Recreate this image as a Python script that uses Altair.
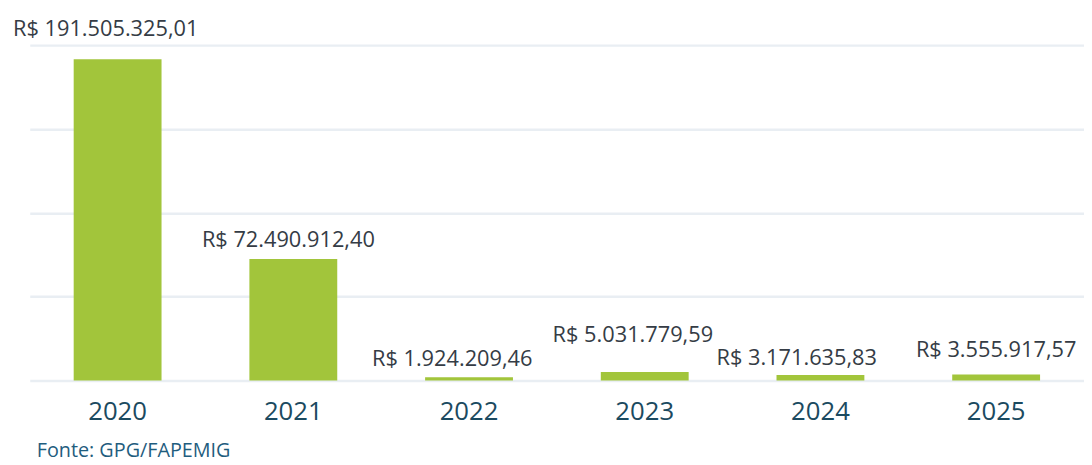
import altair as alt
import pandas as pd

# ---- data ----
years = ["2020", "2021", "2022", "2023", "2024", "2025"]
values = [191505325.01, 72490912.40, 1924209.46, 5031779.59, 3171635.83, 3555917.57]
source_note = "Fonte: GPG/FAPEMIG"


def brl(v):
    s = f"{v:,.2f}".replace(",", "X").replace(".", ",").replace("X", ".")
    return "R$ " + s


df = pd.DataFrame({"ano": years, "valor": values, "rotulo": [brl(v) for v in values]})

# ---- styling ----
BAR = "#a2c53b"
GRID = "#e9eef3"
LABEL = "#353c45"
AXIS_LABEL = "#1b4a60"
NOTE = "#1f5d7e"
FONT = "Open Sans"

# per-label nudges (pixels) used by the original layout
nudge = {
    "2020": (-12, -24),
    "2021": (-5, -12),
    "2022": (-17, -11),
    "2023": (-12, -30),
    "2024": (-24, -10),
    "2025": (0, -18),
}

x_enc = alt.X(
    "ano:N",
    sort=years,
    title=None,
    scale=alt.Scale(paddingInner=0.5, paddingOuter=0.25),
    axis=alt.Axis(
        labelAngle=0,
        labelFont=FONT,
        labelFontSize=26,
        labelColor=AXIS_LABEL,
        labelBaseline="alphabetic",
        labelPadding=40,
        ticks=False,
        tickSize=0,
        domain=False,
        grid=False,
    ),
)
y_scale = alt.Scale(domain=[0, 200000000], nice=False)

base = alt.Chart(df)

bars = base.mark_bar(color=BAR).encode(
    x=x_enc,
    y=alt.Y(
        "valor:Q",
        scale=y_scale,
        title=None,
        axis=alt.Axis(
            values=[0, 50000000, 100000000, 150000000, 200000000],
            labels=False,
            ticks=False,
            domain=False,
            grid=True,
            gridColor=GRID,
            gridWidth=2.5,
        ),
    ),
)

layers = [bars]
for yr in years:
    dx, dy = nudge[yr]
    layers.append(
        base.transform_filter(alt.datum.ano == yr)
        .mark_text(
            font=FONT,
            fontSize=22,
            color=LABEL,
            baseline="alphabetic",
            align="center",
            dx=dx,
            dy=dy,
        )
        .encode(
            x=alt.X("ano:N", sort=years),
            y=alt.Y("valor:Q", scale=y_scale),
            text="rotulo:N",
        )
    )

note = alt.Chart(pd.DataFrame({"t": [source_note]})).mark_text(
    font=FONT, fontSize=20, color=NOTE, align="left", baseline="alphabetic"
).encode(x=alt.value(7), y=alt.value(416), text="t:N")
layers.append(note)

chart = (
    alt.layer(*layers)
    .properties(
        width=1066,
        height=339,
        autosize=alt.AutoSizeParams(type="none"),
        padding={"left": 22, "top": 35, "right": 0, "bottom": 83},
        background="white",
    )
    .configure_view(stroke=None)
)

chart.save("out.html", embed_options={"renderer": "svg", "actions": False})
